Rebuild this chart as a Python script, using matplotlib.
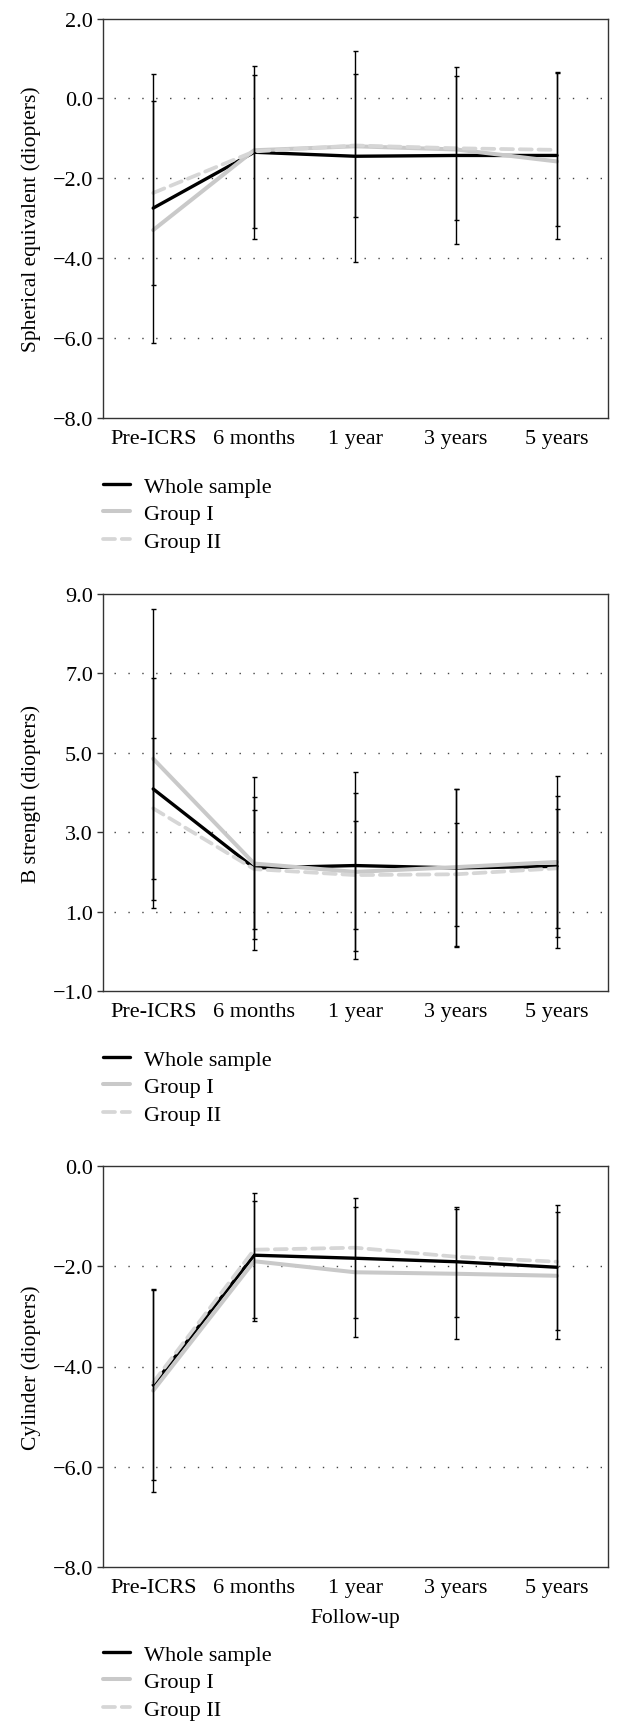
import numpy as np
import matplotlib
matplotlib.use("Agg")
import matplotlib.pyplot as plt

plt.rcParams["font.family"] = ["Liberation Serif", "DejaVu Serif"]

timepoints = ["Pre-ICRS", "6 months", "1 year", "3 years", "5 years"]
series_names = ["Whole sample", "Group I", "Group II"]

# spherical equivalent (D)
se_whole = [-2.75, -1.35, -1.45, -1.43, -1.43]
se_g1 = [-3.30, -1.30, -1.20, -1.28, -1.58]
se_g2 = [-2.37, -1.33, -1.18, -1.25, -1.29]
se_whole_sd = [3.37, 2.17, 2.64, 2.21, 2.09]
se_g2_sd = [2.30, 1.91, 1.78, 1.80, 1.92]

# B strength (D)
bs_whole = [4.09, 2.10, 2.16, 2.10, 2.14]
bs_g1 = [4.85, 2.21, 2.00, 2.12, 2.25]
bs_g2 = [3.60, 2.07, 1.92, 1.94, 2.09]
bs_whole_sd = [2.79, 1.78, 2.35, 2.00, 1.78]
bs_g1_sd = [3.76, 2.17, 2.00, 1.98, 2.17]
bs_g2_sd = [1.77, 1.50, 1.35, 1.30, 1.50]

# cylinder (D)
cy_whole = [-4.37, -1.78, -1.84, -1.91, -2.02]
cy_g1 = [-4.48, -1.90, -2.12, -2.15, -2.19]
cy_g2 = [-4.32, -1.67, -1.63, -1.81, -1.91]
cy_whole_sd = [1.90, 1.25, 1.20, 1.10, 1.25]
cy_g1_sd = [2.03, 1.20, 1.30, 1.30, 1.27]

W, H = 625, 1731
fig = plt.figure(figsize=(W / 100, H / 100), dpi=100)

styles = [
    dict(color="black", lw=2.4, ls="-", zorder=3),
    dict(color="#c9c9c9", lw=2.9, ls="-", zorder=4),
    dict(color="#d6d6d6", lw=2.7, ls=(0, (3.2, 1.8)), zorder=5),
]

panels = [
    dict(box=(19.6, 418.6), means=[se_whole, se_g1, se_g2],
         sds=[se_whole_sd, None, se_g2_sd], ylim=(-8, 2), step=2,
         ylabel="Spherical equivalent (diopters)", leg=487),
    dict(box=(595, 992), means=[bs_whole, bs_g1, bs_g2],
         sds=[bs_whole_sd, bs_g1_sd, bs_g2_sd], ylim=(-1, 9), step=2,
         ylabel="B strength (diopters)", leg=1060),
    dict(box=(1167, 1568), means=[cy_whole, cy_g1, cy_g2],
         sds=[cy_whole_sd, cy_g1_sd, None], ylim=(-8, 0), step=2,
         ylabel="Cylinder (diopters)", leg=1655, xlabel="Follow-up"),
]

x = np.arange(len(timepoints))
left, right = 102.7, 607.5

for p in panels:
    top, bot = p["box"]
    ax = fig.add_axes([left / W, 1 - bot / H, (right - left) / W, (bot - top) / H])
    handles = []
    for vals, st, name in zip(p["means"], styles, series_names):
        (h,) = ax.plot(x, vals, color=st["color"], lw=st["lw"], ls=st["ls"],
                       zorder=st["zorder"], solid_capstyle="round",
                       dash_capstyle="round", label=name)
        handles.append(h)
    for vals, sd in zip(p["means"], p["sds"]):
        if sd is None:
            continue
        ax.errorbar(x, vals, yerr=sd, fmt="none", ecolor="black", elinewidth=1.0,
                    capsize=1.8, capthick=1.0, zorder=6)
    lo, hi = p["ylim"]
    ticks = np.arange(lo, hi + 0.01, p["step"])
    ax.set_ylim(lo, hi)
    ax.set_xlim(-0.5, len(timepoints) - 0.5)
    ax.set_yticks(ticks)
    ax.set_yticklabels([f"{t:.1f}".replace("-", "\u2212") for t in ticks])
    ax.set_xticks(x)
    ax.set_xticklabels(timepoints)
    for t in ticks[1:-1]:
        ax.axhline(t, xmin=0.022, xmax=1, color="#444444", lw=1.0,
                   ls=(0, (1, 9)), zorder=1)
    ax.tick_params(axis="y", length=4, width=1, direction="out", pad=3,
                   labelsize=16, color="#333333")
    ax.tick_params(axis="x", length=0, pad=8, labelsize=16)
    for s in ax.spines.values():
        s.set_color("#333333")
        s.set_linewidth(1.0)
    ax.set_ylabel(p["ylabel"], fontsize=15.5, labelpad=8)
    if "xlabel" in p:
        ax.set_xlabel(p["xlabel"], fontsize=15.5, labelpad=8)
    fig.legend(handles=handles, loc="upper left",
               bbox_to_anchor=(left / W, 1 - (p["leg"] - 10) / H), frameon=False,
               fontsize=16, borderpad=0, borderaxespad=0, handlelength=1.25,
               handletextpad=0.6, labelspacing=0.32)

fig.savefig("out.png", dpi=100)
